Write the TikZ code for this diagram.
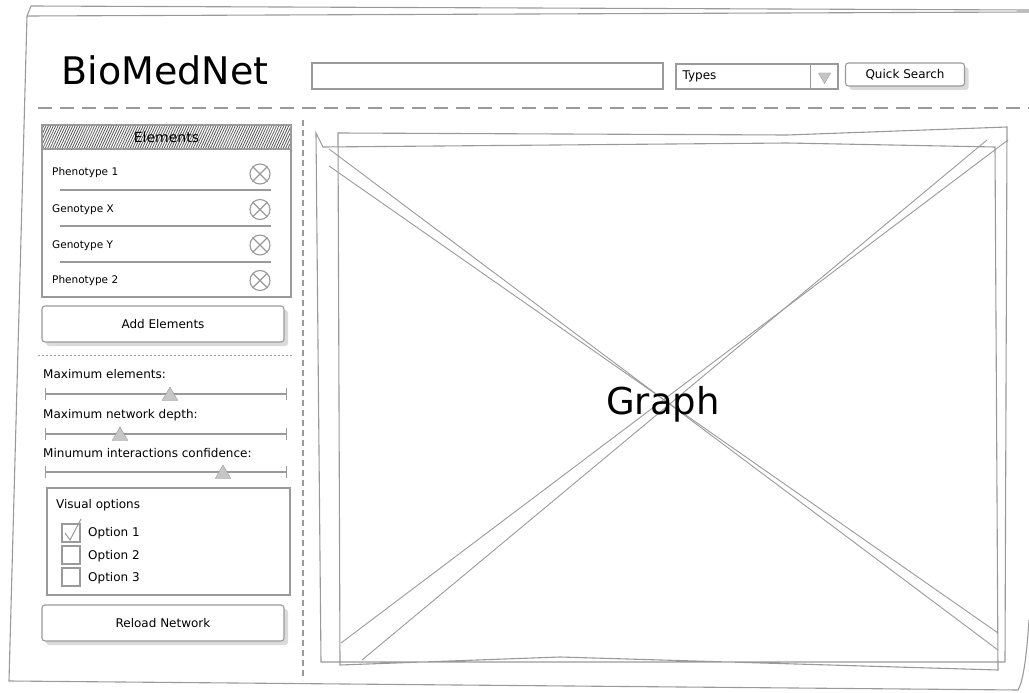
\documentclass[tikz,border=0pt]{standalone}
\usepackage{fontspec}
\setmainfont{DejaVu Sans}
\usetikzlibrary{shapes.geometric, arrows.meta, positioning, patterns.meta, shadows}
\definecolor{sketchgray}{HTML}{9A9A9A}
\definecolor{shadegray}{HTML}{DADADA}
\definecolor{knobgray}{HTML}{C6C6C6}
\definecolor{hatchgray}{HTML}{5A5A5A}

\begin{document}
\begin{tikzpicture}[x=1pt, y=-1pt, node distance=35.5pt]
\tikzstyle{sketch} = [draw=sketchgray, line width=1.1pt]
\tikzstyle{field} = [rectangle, draw=sketchgray, line width=1.1pt, fill=white, inner sep=0pt]
\tikzstyle{button} = [rectangle, rounded corners=3pt, draw=sketchgray, line width=1.1pt, fill=white, drop shadow={shadow xshift=4pt, shadow yshift=-4pt, fill=shadegray, opacity=1}, font=\fontsize{12}{14}\selectfont]
\tikzstyle{txt} = [anchor=west, inner sep=0pt, font=\fontsize{12}{14}\selectfont]
\tikzstyle{rowtxt} = [anchor=west, inner sep=0pt, font=\fontsize{10.5}{12}\selectfont]
\tikzstyle{delete} = [circle, draw=sketchgray, line width=1.1pt, minimum size=20pt, inner sep=0pt]
\tikzstyle{knob} = [regular polygon, regular polygon sides=3, draw=sketchgray, fill=knobgray, minimum size=18pt, inner sep=0pt]
\tikzstyle{track} = [draw=sketchgray, line width=1.1pt, {Bar[width=12pt]}-{Bar[width=12pt]}]
\tikzstyle{checkbox} = [rectangle, draw=sketchgray, line width=1.1pt, minimum size=18pt, inner sep=0pt]

\useasboundingbox (0,0) rectangle (1029,693);

% outer window
\draw[sketch] (31,6) -- (1029,10);
\draw[sketch] (27,16) -- (1029,12);
\draw[sketch] (31,6) -- (27,16) -- (9,681) -- (1018,690) .. controls (1024,680) and (1027,650) .. (1029,620);

% header
\node (title) at (165,70) {\fontsize{38}{40}\selectfont BioMedNet};
\node (search) [field, minimum width=351pt, minimum height=26pt] at (487.5,76) {};
\node (types) [field, minimum width=162pt, minimum height=25pt] at (757,76.5) {};
\node (typestext) [txt] at ([xshift=7pt]types.west) {Types};
\draw[sketch] ([xshift=-28pt]types.north east) -- ([xshift=-28pt]types.south east);
\node (typesarrow) [regular polygon, regular polygon sides=3, shape border rotate=180, fill=knobgray, draw=sketchgray, minimum size=14pt, inner sep=0pt] at ([xshift=-14pt]types.east) {};
\node (quick) [button, minimum width=119pt, minimum height=23pt] at (905,74.5) {Quick Search};

\draw[sketchgray, line width=1.3pt, dash pattern=on 14pt off 8pt] (38,108) -- (1029,108);
\draw[sketchgray, line width=1.2pt, dash pattern=on 6pt off 4pt] (303,120) -- (303,680);

% elements list
\node (elements) [field, minimum width=249pt, minimum height=172pt] at (166.5,211) {};
\node (header) [rectangle, draw=sketchgray, line width=1.1pt, pattern={Lines[angle=65, distance=2.2pt, line width=0.8pt]}, pattern color=hatchgray, minimum width=249pt, minimum height=24pt, inner sep=0pt] at (166.5,137) {};
\node (headertext) at (header) {\fontsize{14}{16}\selectfont Elements};

\node (row1) [rowtxt] at (52,173) {Phenotype 1};
\node (row2) [rowtxt] at (52,210) {Genotype X};
\node (row3) [rowtxt] at (52,246) {Genotype Y};
\node (row4) [rowtxt] at (52,281) {Phenotype 2};
\draw[sketch] (60,190) -- (271,190);
\draw[sketch] (60,226) -- (271,226);
\draw[sketch] (60,262) -- (271,262);

\node (del1) [delete] at (260,174) {};
\node (del2) [delete, below of=del1] {};
\node (del3) [delete, below of=del2] {};
\node (del4) [delete, below of=del3] {};
\draw[sketch] (del1.north west) -- (del1.south east) (del1.north east) -- (del1.south west);
\draw[sketch] (del2.north west) -- (del2.south east) (del2.north east) -- (del2.south west);
\draw[sketch] (del3.north west) -- (del3.south east) (del3.north east) -- (del3.south west);
\draw[sketch] (del4.north west) -- (del4.south east) (del4.north east) -- (del4.south west);

\node (addbtn) [button, minimum width=242pt, minimum height=36pt] at (163,324) {Add Elements};

\draw[sketchgray, line width=0.9pt, dash pattern=on 2pt off 2pt] (38,355) -- (293,355);

% sliders
\node (maxel) [txt] at (43,374) {Maximum elements:};
\coordinate (s1a) at (45,394);
\coordinate (s1b) at (287,394);
\draw[track] (s1a) -- (s1b);
\node (knob1) [knob] at (170,396) {};

\node (maxdepth) [txt] at (43,415) {Maximum network depth:};
\coordinate (s2a) at (45,434);
\coordinate (s2b) at (287,434);
\draw[track] (s2a) -- (s2b);
\node (knob2) [knob] at (120,436) {};

\node (minconf) [txt] at (43,453) {Minumum interactions confidence:};
\coordinate (s3a) at (45,472);
\coordinate (s3b) at (287,472);
\draw[track] (s3a) -- (s3b);
\node (knob3) [knob] at (223,474) {};

% visual options
\node (visual) [field, minimum width=243pt, minimum height=107pt] at (168.5,541.5) {};
\node (visualtitle) [txt] at (56,505) {Visual options};
\node (check1) [checkbox] at (71,533) {};
\node (check2) [checkbox, below of=check1, node distance=22pt] {};
\node (check3) [checkbox, below of=check2, node distance=22pt] {};
\draw[sketchgray, line width=1pt] ([shift={(-6,0)}]check1.center) -- ([shift={(-1,7)}]check1.center) -- ([shift={(10,-14)}]check1.center);
\node (opt1) [txt] at (88,533) {Option 1};
\node (opt2) [txt] at (88,556) {Option 2};
\node (opt3) [txt] at (88,578) {Option 3};

\node (reload) [button, minimum width=242pt, minimum height=36pt] at (163,623) {Reload Network};

% graph placeholder
\draw[sketch] (340,665) -- (338,133) -- (787,135) -- (1007,127) -- (1005,662) -- (321,662) -- (316,133) -- (323,147) -- (787,143) -- (995,147) -- (998,670) -- (560,657) -- cycle;
\draw[sketch, line width=0.9pt] (329,149) -- (998,650);
\draw[sketch, line width=0.9pt] (329,166) -- (998,633);
\draw[sketch, line width=0.9pt] (987,140) -- (362,660);
\draw[sketch, line width=0.9pt] (1008,140) -- (341,643);
\node (graphlabel) at (663,404) {\fontsize{37}{40}\selectfont Graph};

\end{tikzpicture}
\end{document}
